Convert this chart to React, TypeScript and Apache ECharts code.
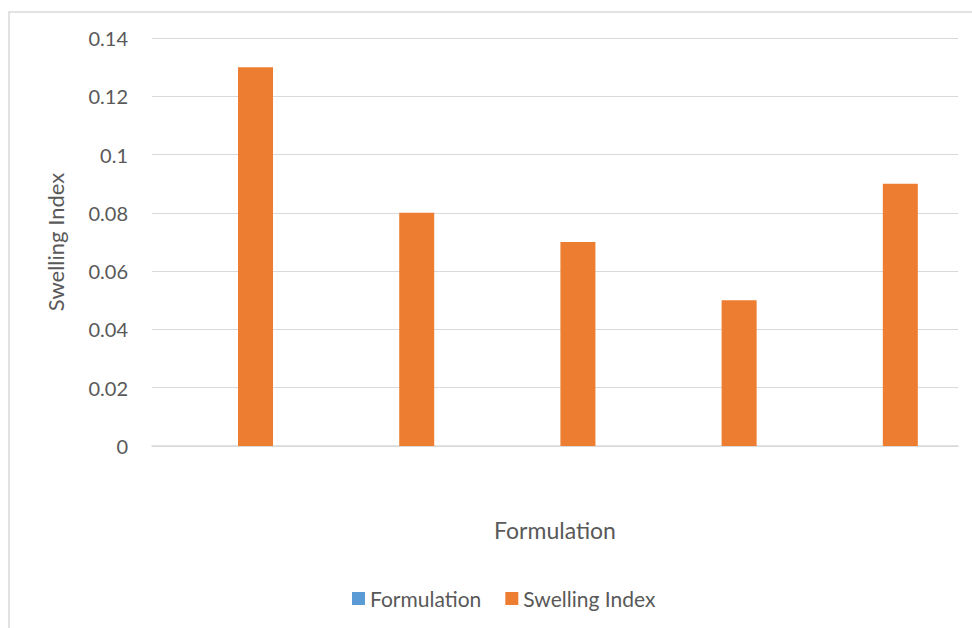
import React, { useEffect, useRef } from "react";
import * as echarts from "echarts";

// Formulation indices (labels are not shown on the axis)
const categories = ["1", "2", "3", "4", "5"];
// The "Formulation" series carries no bar values
const formulationValues: (number | null)[] = [null, null, null, null, null];
const swellingIndex = [0.13, 0.08, 0.07, 0.05, 0.09];
const yTicks = { min: 0, max: 0.14, interval: 0.02 };

const TEXT = "#595959";
const GRID = "#d9d9d9";
const FONT = "Lato, 'Open Sans', sans-serif";

export default function App() {
  const ref = useRef<HTMLDivElement>(null);

  useEffect(() => {
    if (!ref.current) return;
    const chart = echarts.init(ref.current, undefined, { renderer: "svg" });
    chart.setOption({
      animation: false,
      backgroundColor: "#ffffff",
      textStyle: { fontFamily: FONT, color: TEXT },
      graphic: [
        {
          type: "rect",
          shape: { x: 9, y: 12, width: 1000, height: 700 },
          style: { fill: "none", stroke: GRID, lineWidth: 1.5 },
          silent: true,
        },
      ],
      grid: { left: 152, right: 14, top: 38, bottom: 182, containLabel: false },
      legend: {
        left: 347,
        top: 583,
        itemWidth: 13,
        itemHeight: 13,
        itemGap: 24,
        icon: "rect",
        textStyle: { fontFamily: FONT, fontSize: 21, color: TEXT },
        data: ["Formulation", "Swelling Index"],
      },
      xAxis: {
        type: "category",
        data: categories,
        name: "Formulation",
        nameLocation: "middle",
        nameGap: 72,
        nameTextStyle: { fontFamily: FONT, fontSize: 23, color: TEXT },
        axisLine: { show: true, lineStyle: { color: GRID, width: 1.5 } },
        axisTick: { show: false },
        axisLabel: { show: false },
      },
      yAxis: {
        type: "value",
        min: yTicks.min,
        max: yTicks.max,
        interval: yTicks.interval,
        name: "Swelling Index",
        nameLocation: "middle",
        nameGap: 86,
        nameTextStyle: { fontFamily: FONT, fontSize: 22, color: TEXT },
        axisLine: { show: false },
        axisTick: { show: false },
        axisLabel: {
          fontFamily: FONT,
          fontSize: 20,
          color: TEXT,
          margin: 24,
          formatter: (v: number) => String(parseFloat(v.toFixed(2))),
        },
        splitLine: { lineStyle: { color: GRID, width: 1.2 } },
      },
      series: [
        {
          name: "Formulation",
          type: "bar",
          data: formulationValues,
          itemStyle: { color: "#5B9BD5" },
          barWidth: 35,
          barGap: "31%",
        },
        {
          name: "Swelling Index",
          type: "bar",
          data: swellingIndex,
          itemStyle: { color: "#ED7D31" },
          barWidth: 35,
          barGap: "31%",
        },
      ],
    });
    return () => chart.dispose();
  }, []);

  return (
    <div
      ref={ref}
      style={{ width: 972, height: 628, position: "absolute", left: 0, top: 0 }}
    />
  );
}
